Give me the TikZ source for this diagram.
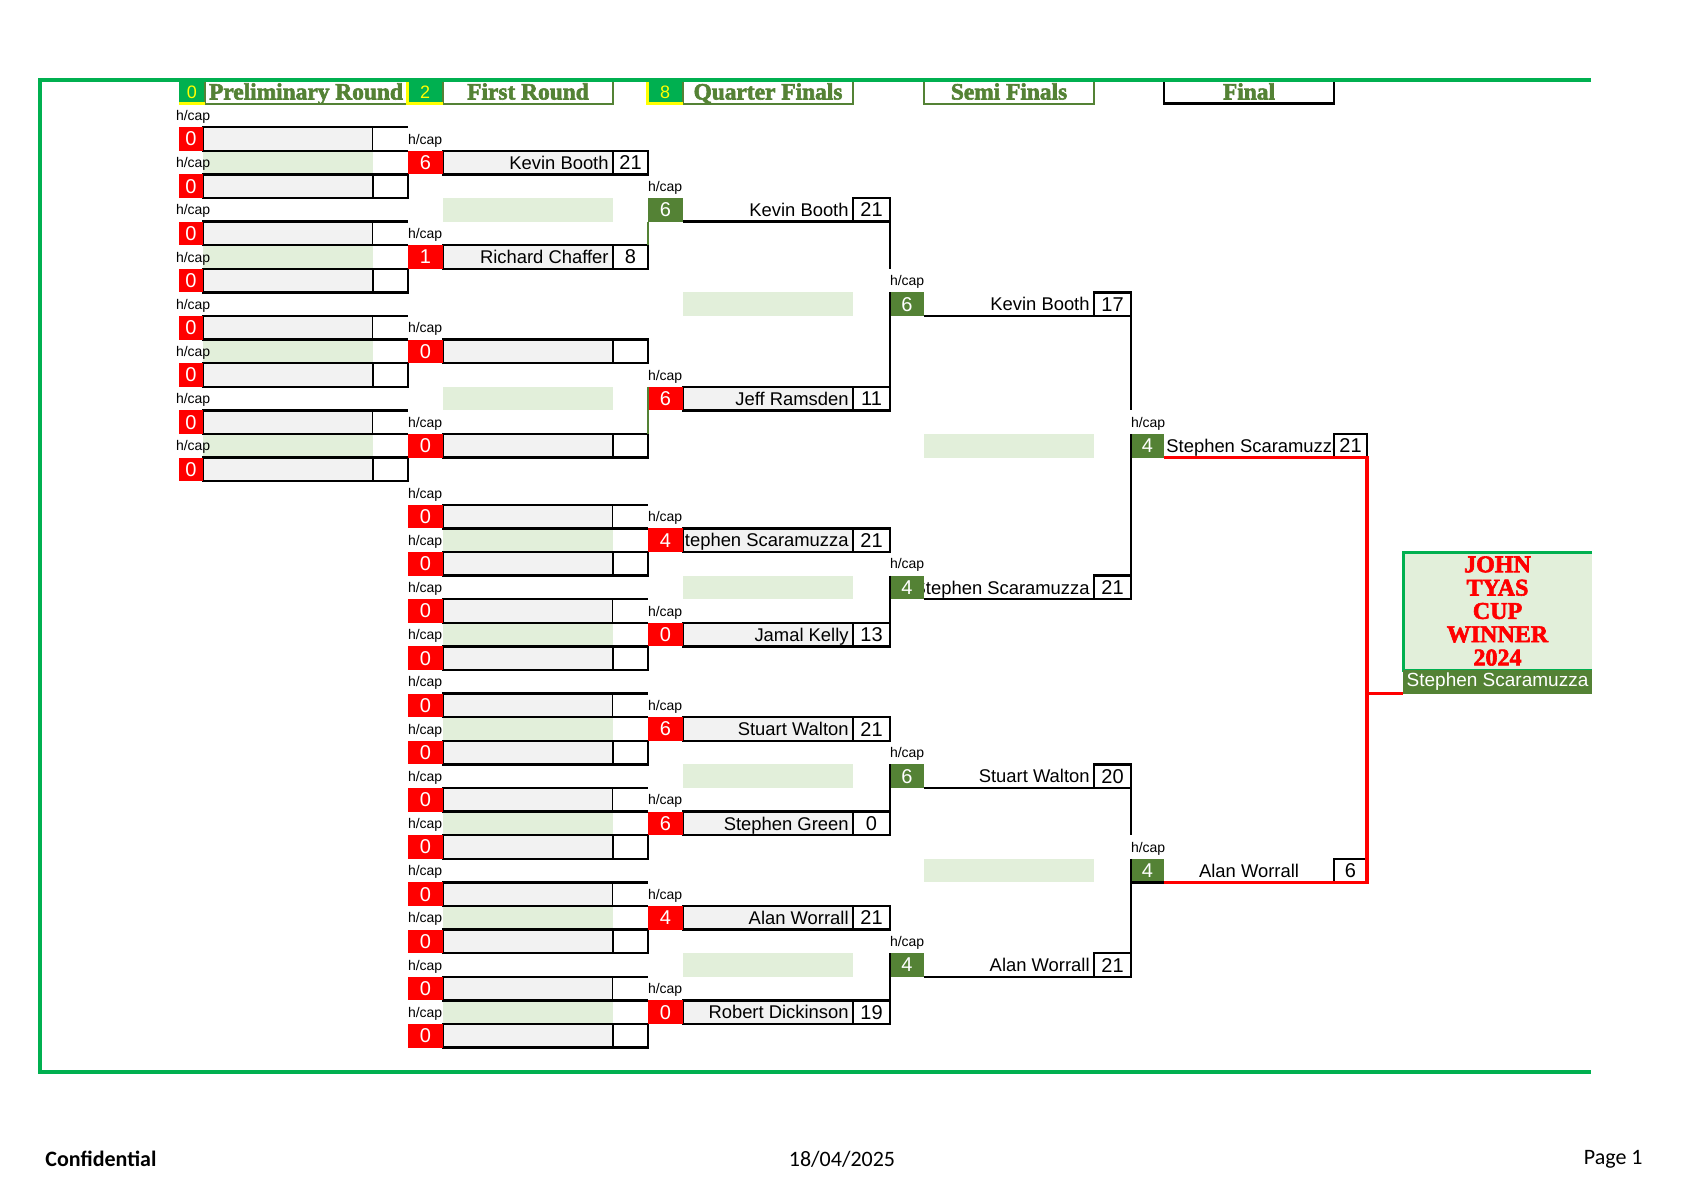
\documentclass[tikz,border=0pt]{standalone}
\usepackage{fontspec}
\setmainfont{Liberation Sans}
\newfontfamily\headfont{Liberation Serif}[BoldFeatures={FakeBold=2.5}]
\newfontfamily\footfont{Carlito}
\usepackage{tikz}
\usetikzlibrary{positioning}
\definecolor{framegreen}{RGB}{0,176,80}
\definecolor{olive}{RGB}{84,130,53}
\definecolor{lightgreen}{RGB}{226,239,218}
\definecolor{cellgrey}{RGB}{242,242,242}
\definecolor{cupred}{RGB}{255,0,0}
\definecolor{cupyellow}{RGB}{255,255,0}
\tikzset{
    cell/.style={rectangle, inner sep=0pt, outer sep=0pt, minimum height=11.8pt, anchor=north west},
    rule/.style={draw=black, line width=1.2pt},
    hcap/.style={cell, text width=18pt, align=left, text depth=0pt, font=\fontsize{7}{8}\selectfont},
    hcred/.style={cell, fill=cupred, text=white, font=\fontsize{10}{11}\selectfont},
    hcolive/.style={cell, fill=olive, text=white, font=\fontsize{10}{11}\selectfont},
    namebox/.style={cell, minimum width=85pt, text height=6.6pt, text depth=0pt, font=\fontsize{9.2}{11}\selectfont},
    player/.style={namebox, fill=cellgrey, rule},
    who/.style={label={[anchor=east, inner xsep=2pt, inner ysep=0pt, text height=6.6pt, text depth=0pt, font=\fontsize{9.2}{11}\selectfont]east:#1}},
    scorebox/.style={cell, fill=white, minimum width=17.5pt, font=\fontsize{10}{11}\selectfont},
    band/.style={cell, fill=lightgreen, minimum width=85pt},
    title/.style={cell, minimum width=85pt, text=olive, text height=7.7pt, text depth=0pt, font=\headfont\bfseries\fontsize{11.7}{13}\selectfont},
    roundno/.style={cell, fill=framegreen, text=cupyellow, font=\fontsize{9}{10}\selectfont},
    oliveline/.style={draw=olive, line width=1pt},
    yellowline/.style={draw=cupyellow, line width=1.5pt},
    frame/.style={draw=framegreen, line width=2pt},
    winline/.style={draw=cupred, line width=1.7pt},
    footer/.style={inner sep=0pt, font=\footfont\fontsize{11}{13}\selectfont}
}
\begin{document}
\begin{tikzpicture}[x=0.5pt, y=-0.5pt]
    \useasboundingbox (0,0) rectangle (1684,1190);

    % Light green spacer bands
    \foreach \r [count=\i] in {3,7,11,15}
        \node[band] (pband\i) at (203,{80+23.6*\r}) {};
    \foreach \r [count=\i] in {5,13,19,23,27,31,35,39}
        \node[band] (rband\i) at (443,{80+23.6*\r}) {};
    \foreach \r [count=\i] in {9,21,29,37}
        \node[band] (qband\i) at (683,{80+23.6*\r}) {};
    \foreach \r [count=\i] in {15,33}
        \node[band] (sband\i) at (924,{80+23.6*\r}) {};

    % Round headings
    \node[roundno, minimum width=13pt] (h0-n) at (179,80) {0};
    \node[title, minimum width=101pt, right=0pt of h0-n] (h0-t) {Preliminary Round};
    \node[roundno, minimum width=18pt] (h1-n) at (407,80) {2};
    \node[title, right=0pt of h1-n] (h1-t) {First Round};
    \node[roundno, minimum width=18pt] (hq-n) at (647,80) {8};
    \node[title, right=0pt of hq-n] (hq-t) {Quarter Finals};
    \node[title] (hs-t) at (924,80) {Semi Finals};
    \node[title] (hf-t) at (1164,80) {Final};
    \foreach \t in {h0-t,h1-t,hq-t,hs-t}
        \draw[oliveline] (\t.north west) |- (\t.south east) -- (\t.north east);
    \draw[rule] (hf-t.north west) |- (hf-t.south east) -- (hf-t.north east);
    \draw[yellowline] (h0-n.south west) -- (h0-n.south east);
    \draw[yellowline] (h1-n.north west) |- (h1-n.south east);
    \draw[yellowline] (hq-n.north west) |- (hq-n.south east);

    % Preliminary round
    \foreach \i in {1,...,8}{
        \node[hcap] (p\i-h) at (176,{80+23.6*(2*\i-1)}) {h/cap};
        \node[player] (p\i-n) at (203,{80+23.6*2*\i}) {};
        \node[hcred, minimum width=12pt, left=0pt of p\i-n] (p\i-c) {0};
        \node[scorebox, right=0pt of p\i-n] (p\i-s) {};
    }
    \foreach \i in {1,3,5,7}
        \draw[rule] (p\i-s.north west) -- (p\i-s.north east) (p\i-s.south west) -- (p\i-s.south east);
    \foreach \i in {2,4,6,8}
        \draw[rule] (p\i-s.north west) rectangle (p\i-s.south east);

    % First round
    \foreach \r/\who/\hc/\sc [count=\i] in {3/Kevin Booth/6/21, 7/Richard Chaffer/1/8, 11/{}/0/{}, 15/{}/0/{}}{
        \node[hcap] (r\i-h) at (408,{80+23.6*(\r-1)}) {h/cap};
        \node[player, who=\who] (r\i-n) at (443,{80+23.6*\r}) {};
        \node[hcred, minimum width=17.5pt, left=0pt of r\i-n] (r\i-c) {\hc};
        \node[scorebox, rule, right=0pt of r\i-n] (r\i-s) {\sc};
    }
    \foreach \i in {5,...,16}{
        \node[hcap] (r\i-h) at (408,{80+23.6*(2*\i+7)}) {h/cap};
        \node[player] (r\i-n) at (443,{80+23.6*(2*\i+8)}) {};
        \node[hcred, minimum width=17.5pt, left=0pt of r\i-n] (r\i-c) {0};
        \node[scorebox, right=0pt of r\i-n] (r\i-s) {};
    }
    \foreach \i in {5,7,...,15}
        \draw[rule] (r\i-s.north west) -- (r\i-s.north east) (r\i-s.south west) -- (r\i-s.south east);
    \foreach \i in {6,8,...,16}
        \draw[rule] (r\i-s.north west) rectangle (r\i-s.south east);

    % Quarter finals
    \node[hcap] (q1-h) at (648,{80+23.6*4}) {h/cap};
    \node[namebox, who=Kevin Booth] (q1-n) at (683,{80+23.6*5}) {};
    \node[hcolive, minimum width=17.5pt, left=0pt of q1-n] (q1-c) {6};
    \node[scorebox, rule, minimum width=18.5pt, right=0pt of q1-n] (q1-s) {21};
    \draw[rule] (q1-n.south west) -- (q1-s.south east);
    \foreach \r/\who/\hc/\sc [count=\i from 2] in {13/Jeff Ramsden/6/11, 19/Stephen Scaramuzza/4/21, 23/Jamal Kelly/0/13, 27/Stuart Walton/6/21, 31/Stephen Green/6/0, 35/Alan Worrall/4/21, 39/Robert Dickinson/0/19}{
        \node[hcap] (q\i-h) at (648,{80+23.6*(\r-1)}) {h/cap};
        \node[player, who=\who] (q\i-n) at (683,{80+23.6*\r}) {};
        \node[hcred, minimum width=17.5pt, left=0pt of q\i-n] (q\i-c) {\hc};
        \node[scorebox, rule, minimum width=18.5pt, right=0pt of q\i-n] (q\i-s) {\sc};
    }
    \draw[oliveline] (q1-c.south west) -- (r2-s.north east);
    \draw[oliveline] (q2-c.north west) -- (r4-s.north east);

    % Semi finals
    \foreach \r/\who/\hc/\sc [count=\i] in {9/Kevin Booth/6/17, 21/Stephen Scaramuzza/4/21, 29/Stuart Walton/6/20, 37/Alan Worrall/4/21}{
        \node[hcap] (s\i-h) at (890,{80+23.6*(\r-1)}) {h/cap};
        \node[namebox, who=\who] (s\i-n) at (924,{80+23.6*\r}) {};
        \node[hcolive, minimum width=17pt, left=0pt of s\i-n] (s\i-c) {\hc};
        \node[scorebox, rule, minimum width=18.5pt, right=0pt of s\i-n] (s\i-s) {\sc};
        \draw[rule] (s\i-n.south west) -- (s\i-s.south east);
    }

    % Final
    \node[hcap] (f1-h) at (1131,{80+23.6*14}) {h/cap};
    \node[namebox, label={[anchor=west, inner xsep=1pt, inner ysep=0pt, text height=6.6pt, text depth=0pt, font=\fontsize{9.2}{11}\selectfont]west:Stephen Scaramuzza}] (f1-n) at (1164,{80+23.6*15}) {};
    \node[hcolive, minimum width=16.5pt, left=0pt of f1-n] (f1-c) {4};
    \node[scorebox, rule, minimum width=16.5pt, right=0pt of f1-n] (f1-s) {21};
    \node[hcap] (f2-h) at (1131,{80+23.6*32}) {h/cap};
    \node[namebox] (f2-n) at (1164,{80+23.6*33}) {Alan Worrall};
    \node[hcolive, minimum width=16.5pt, left=0pt of f2-n] (f2-c) {4};
    \node[scorebox, rule, minimum width=16.5pt, right=0pt of f2-n] (f2-s) {6};

    % Bracket lines
    \draw[rule] (q1-s.south east) -- (s1-h.north west);
    \draw[rule] (s1-c.north west) -- (q2-s.north east);
    \draw[rule] (s2-c.north west) -- (q4-s.north east);
    \draw[rule] (s3-c.north west) -- (q6-s.north east);
    \draw[rule] (s4-c.north west) -- (q8-s.north east);
    \draw[rule] (s1-s.south east) -- (f1-h.north west);
    \draw[rule] (f1-c.north west) -- (s2-s.north east);
    \draw[rule] (s3-s.south east) -- (f2-h.north west);
    \draw[rule] (f2-c.north west) -- (s4-s.north east);
    \draw[rule] (f2-c.south west) -- (f2-c.south east);

    % Page frame
    \draw[frame] (1591,80) -- (40,80) -- (40,1072) -- (1591,1072);

    % Winner panel
    \node[cell, minimum width=94.5pt, minimum height=59pt, fill=lightgreen, text=cupred, align=center, font=\headfont\bfseries\fontsize{12}{11.65}\selectfont] (cup) at (1403,{80+23.6*20}) {JOHN\\TYAS\\CUP\\WINNER\\2024};
    \draw[draw=framegreen, line width=1.5pt] (cup.north east) -| (cup.south west) -- (cup.south east);
    \node[cell, minimum width=94.5pt, fill=olive, text=white, font=\fontsize{9.5}{11}\selectfont] (cupname) at (cup.south west) {Stephen Scaramuzza};
    \draw[winline] (f1-c.south east) -- (f1-s.south east) -- (f2-s.south east) -- (f2-c.south east);
    \draw[winline] (cupname.south west) -- (cupname.south west -| f1-s.east);

    % Footer
    \node[footer, anchor=west, font=\footfont\bfseries\fontsize{11}{13}\selectfont] (conf) at (45,1159) {Confidential};
    \node[footer] (date) at (842,1159) {18/04/2025};
    \node[footer, anchor=east] (page) at (1643,1159) {Page 1};
\end{tikzpicture}
\end{document}
